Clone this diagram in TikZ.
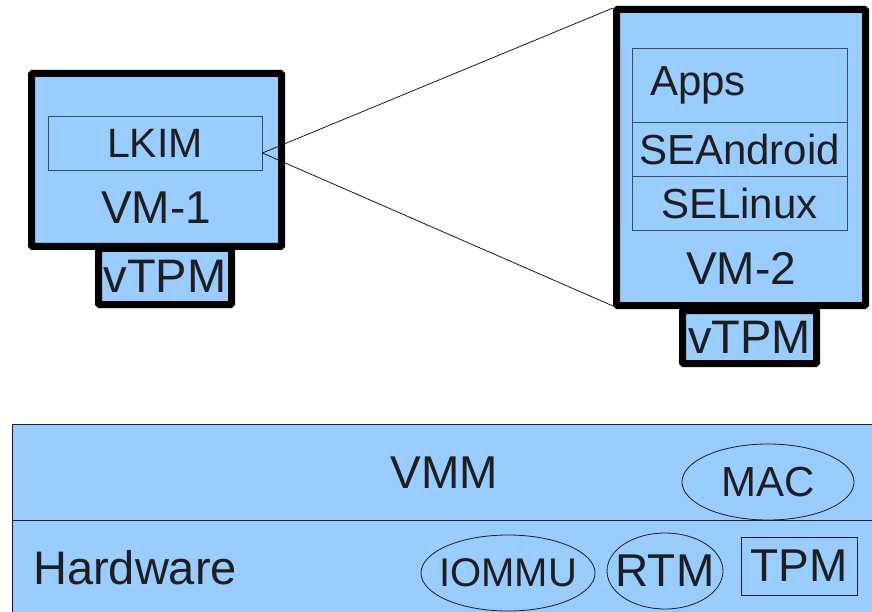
\documentclass[tikz,border=0pt]{standalone}
\usepackage{fontspec}
\setmainfont{Liberation Sans}
\definecolor{boxblue}{HTML}{99CCFF}
\definecolor{edgegray}{HTML}{3A4B5C}
\definecolor{inkdark}{HTML}{1E1E1E}
\newcommand{\fsz}[1]{\fontsize{#1}{#1}\selectfont}
\begin{document}
\begin{tikzpicture}[x=1pt, y=-1pt,
    vmbox/.style = {draw=black, line width=7pt, fill=boxblue, rounded corners=1pt, inner sep=0pt},
    inbox/.style = {draw=edgegray, line width=0.8pt, fill=boxblue, inner sep=0pt, text=inkdark},
    layer/.style = {draw=inkdark, line width=0.9pt, fill=boxblue, inner sep=0pt},
    ring/.style  = {draw=inkdark, line width=0.8pt},
    word/.style  = {text=inkdark, inner sep=0pt}]
    \useasboundingbox (0,0) rectangle (872,612);

    % left virtual machine
    \node [vmbox, minimum width=250pt, minimum height=173pt] (vm1) at (156.5,160) {};
    \node [vmbox, minimum width=133pt, minimum height=56pt] (vtpm1) at (165,276.5) {};
    \node [word] at (vtpm1.center) {\fsz{47}vTPM};
    \node [inbox, minimum width=214pt, minimum height=54pt, font=\fsz{41}] (lkim) at (155,143) {LKIM};
    \node [word, font=\fsz{46}] (vm1txt) at (156,208) {VM-1};

    \coordinate (lkimtip) at ([yshift=-10pt]lkim.east);

    % zoom lines
    \draw [line width=0.7pt] (lkimtip) -- (613,8);
    \draw [line width=0.7pt] (lkimtip) -- (613,306);

    % right virtual machine
    \node [vmbox, minimum width=249pt, minimum height=296pt] (vm2) at (741,157.5) {};
    \node [vmbox, minimum width=134pt, minimum height=53pt] (vtpm2) at (749.5,337) {};
    \node [word] at (vtpm2.center) {\fsz{47}vTPM};
    \node [inbox, minimum height=74pt, text width=179pt, inner xsep=18pt, align=left, font=\fsz{42}] (apps) at (739.5,85) {Apps};
    \node [inbox, minimum width=215pt, minimum height=54pt, font=\fsz{42}] (seandroid) at (739.5,149) {SEAndroid};
    \node [inbox, minimum width=215pt, minimum height=54pt, font=\fsz{42}] (selinux) at (739.5,203) {SELinux};
    \node [word, font=\fsz{46}] (vm2txt) at (741,268) {VM-2};

    % hypervisor and hardware layers
    \node [layer, minimum width=868pt, minimum height=96pt] (vmm) at (446,472) {};
    \node [layer, minimum width=868pt, minimum height=100pt] (hw) at (446,570) {};
    \node [word, font=\fsz{46}] (vmmtxt) at (444,473) {VMM};
    \node [word, anchor=west, font=\fsz{47}] (hwtxt) at (33,568) {Hardware};

    \node [word, font=\fsz{42}] (mac) at (768,482) {MAC};
    \draw [ring] (mac.center) ellipse [x radius=86pt, y radius=38pt];
    \node [word, font=\fsz{40}] (iommu) at (508,573) {IOMMU};
    \draw [ring] (iommu.center) ellipse [x radius=87pt, y radius=38pt];
    \node [word, font=\fsz{46}] (rtm) at (665,571) {RTM};
    \draw [ring] (rtm.center) ellipse [x radius=58pt, y radius=38pt];
    \node [inbox, draw=inkdark, minimum width=116pt, minimum height=58pt, font=\fsz{46}] (tpm) at (799,566) {TPM};
\end{tikzpicture}
\end{document}
